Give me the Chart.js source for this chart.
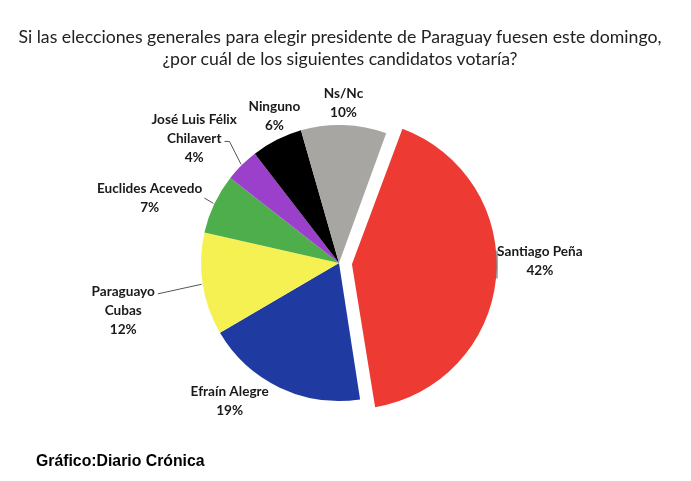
<!DOCTYPE html>
<html>
<head>
<meta charset="utf-8">
<script src="https://cdn.jsdelivr.net/npm/chart.js@4"></script>
<style>
  body { margin: 0; background: #fff; }
  #wrap { position: relative; width: 691px; height: 481px; }
  #title {
    position: absolute; left: 0; top: 26px; width: 680px;
    text-align: center; font-family: Lato, sans-serif; font-size: 17.7px;
    line-height: 22px; color: #222;
  }
  #source {
    position: absolute; left: 36px; top: 452px;
    font-family: 'Liberation Sans', Arial, sans-serif; font-weight: bold;
    font-size: 15.8px; color: #000;
  }
</style>
</head>
<body>
<div id="wrap">
  <canvas id="pieChart" width="691" height="481"></canvas>
  <div id="title">Si las elecciones generales para elegir presidente de Paraguay fuesen este domingo,<br>¿por cuál de los siguientes candidatos votaría?</div>
  <div id="source">Gráfico:Diario Crónica</div>
</div>
<script>
// datos
const categories = [
    ['Santiago Peña'],
    ['Efraín Alegre'],
    ['Paraguayo', 'Cubas'],
    ['Euclides Acevedo'],
    ['José Luis Félix', 'Chilavert'],
    ['Ninguno'],
    ['Ns/Nc']
];
const values = [42, 19, 12, 7, 4, 6, 10];

// etiquetas alrededor del pie
const sliceLabels = {
    id: 'sliceLabels',
    afterDatasetsDraw(chart, args, opts) {
        const ctx = chart.ctx;
        const meta = chart.getDatasetMeta(0);
        ctx.save();
        ctx.font = opts.font;
        ctx.fillStyle = '#1a1a1a';
        ctx.strokeStyle = '#555';
        ctx.lineWidth = 1;
        ctx.textAlign = 'center';
        ctx.textBaseline = 'middle';

        meta.data.forEach((arc, i) => {
            const lay = opts.layout[i];
            const mid = (arc.startAngle + arc.endAngle) / 2;
            const off = (arc.options.offset || 0) / 4;
            const cx = arc.x + Math.cos(mid) * off;
            const cy = arc.y + Math.sin(mid) * off;
            const circ = arc.endAngle - arc.startAngle;
            const drawnR = arc.outerRadius + off * (1 - Math.sin(Math.min(Math.PI, circ)));

            const a = mid + lay.nudge * Math.PI / 180;
            const r = arc.outerRadius + lay.gap;
            const px = cx + Math.cos(a) * r;
            const py = cy + Math.sin(a) * r;

            const lines = [...categories[i], values[i] + '%'];
            const lh = opts.lineHeight;
            const y0 = py - (lines.length - 1) / 2 * lh;
            lines.forEach((t, k) => ctx.fillText(t, px, y0 + k * lh));

            const ld = lay.leader;
            if (!ld) return;
            ctx.beginPath();
            if (ld.edge) {
                const a1 = mid + ld.edge[0] * Math.PI / 180;
                const a2 = mid + ld.edge[1] * Math.PI / 180;
                ctx.moveTo(cx + Math.cos(a1) * (drawnR + 1), cy + Math.sin(a1) * (drawnR + 1));
                ctx.lineTo(cx + Math.cos(a2) * (drawnR + 1), cy + Math.sin(a2) * (drawnR + 1));
            } else {
                const w = ctx.measureText(lines[ld.line]).width;
                const sx = px + w / 2 + ld.dx;
                const sy = y0 + ld.line * lh + ld.dy;
                ctx.moveTo(sx, sy);
                if (ld.flat) ctx.lineTo(sx + ld.flat, sy);
                ctx.lineTo(cx + Math.cos(mid) * (drawnR + 1), cy + Math.sin(mid) * (drawnR + 1));
            }
            ctx.stroke();
        });
        ctx.restore();
    }
};

new Chart(document.getElementById('pieChart'), {
    type: 'pie',
    data: {
        labels: categories,
        datasets: [{
            data: values,
            backgroundColor: ['#ED3A32', '#1F3BA2', '#F6F152', '#4EAE4B', '#9A40CA', '#000000', '#A8A6A3'],
            borderWidth: 0,
            offset: [52, 0, 0, 0, 0, 0, 0]
        }]
    },
    options: {
        responsive: false,
        animation: false,
        events: [],
        rotation: 20,
        layout: { padding: { left: 175, right: 188, top: 99, bottom: 54 } },
        plugins: {
            legend: { display: false },
            tooltip: { enabled: false },
            sliceLabels: {
                font: 'bold 13.6px Lato',
                lineHeight: 19,
                layout: [
                    { nudge: -6.7, gap: 50, leader: { edge: [-11, 0] } },
                    { nudge: 13, gap: 38 },
                    { nudge: -3.7, gap: 83, leader: { line: 0, dx: 3, dy: 2 } },
                    { nudge: -6.6, gap: 62, leader: { line: 0, dx: 2, dy: 9 } },
                    { nudge: -4.5, gap: 53, leader: { line: 1, dx: 3, dy: 3, flat: 5 } },
                    { nudge: 3, gap: 22 },
                    { nudge: -0.4, gap: 22 }
                ]
            }
        }
    },
    plugins: [sliceLabels]
});
</script>
</body>
</html>
